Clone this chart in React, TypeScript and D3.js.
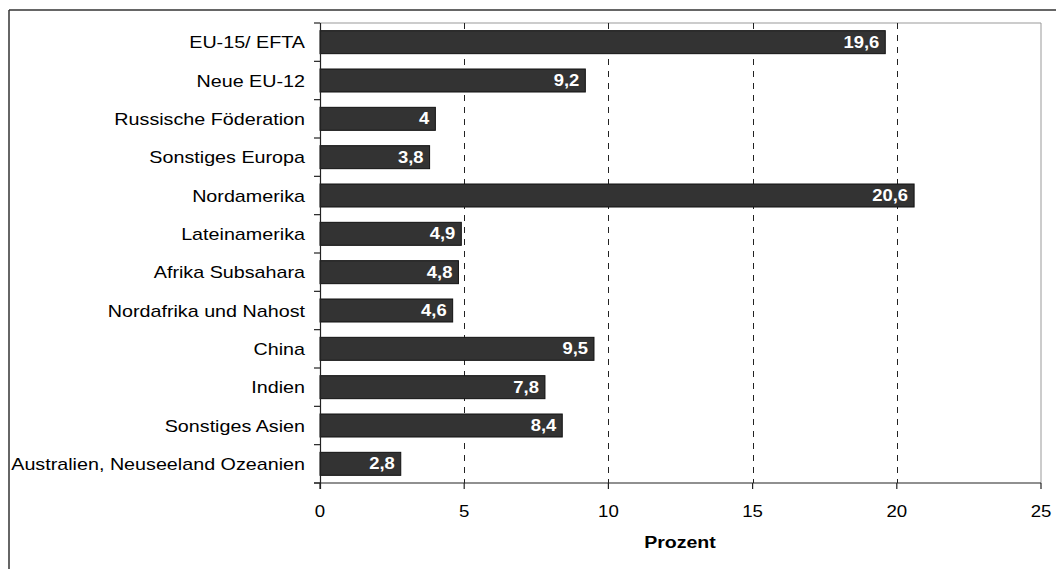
import React from "react";
import * as d3 from "d3";

const categories = [
  "EU-15/ EFTA",
  "Neue EU-12",
  "Russische Föderation",
  "Sonstiges Europa",
  "Nordamerika",
  "Lateinamerika",
  "Afrika Subsahara",
  "Nordafrika und Nahost",
  "China",
  "Indien",
  "Sonstiges Asien",
  "Australien, Neuseeland Ozeanien",
];
const values = [19.6, 9.2, 4, 3.8, 20.6, 4.9, 4.8, 4.6, 9.5, 7.8, 8.4, 2.8];
const xTicks = [0, 5, 10, 15, 20, 25];
const gridTicks = [5, 10, 15, 20];
const xLabel = "Prozent";

const W = 1056;
const H = 569;
const left = 320;
const right = 1041;
const top = 23;
const bottom = 483;
const FONT = "'Liberation Sans', Arial, sans-serif";

export default function App() {
  const x = d3.scaleLinear().domain([0, 25]).range([left, right]);
  const y = d3.scaleBand<string>().domain(categories).range([top, bottom]).paddingInner(0.4).paddingOuter(0.2);
  const bounds = d3.range(categories.length + 1).map((i) => top + i * ((bottom - top) / categories.length));
  const fmt = (v: number) => String(v).replace(".", ",");

  return (
    <svg width={W} height={H} style={{ position: "absolute", left: 0, top: 0 }} fontFamily={FONT}>
      <rect x={0} y={0} width={W} height={H} fill="#fff" />
      <line x1={9} x2={W} y1={10} y2={10} stroke="#333" strokeWidth={1.5} />
      <line x1={9} x2={9} y1={10} y2={H} stroke="#333" strokeWidth={1.5} />
      <line x1={left} x2={right} y1={top} y2={top} stroke="#999" strokeWidth={1} />
      <line x1={right} x2={right} y1={top} y2={bottom} stroke="#999" strokeWidth={1} />
      {gridTicks.map((t) => (
        <line key={t} x1={Math.round(x(t)) + 0.5} x2={Math.round(x(t)) + 0.5} y1={top} y2={bottom}
          stroke="#222" strokeWidth={1} strokeDasharray="6,6" />
      ))}
      {categories.map((c, i) => {
        const yy = y(c)!;
        const bw = y.bandwidth();
        return (
          <g key={c}>
            <rect x={x(0)} y={yy} width={x(values[i]) - x(0)} height={bw} fill="#333" stroke="#111" strokeWidth={1} />
            <text transform={`translate(${x(values[i]) - 6},${yy + bw / 2 + 5.5}) scale(1.15,1)`}
              textAnchor="end" fill="#fff" fontWeight="bold" fontSize={16}>{fmt(values[i])}</text>
            <text transform={`translate(305,${yy + bw / 2 + 6}) scale(1.16,1)`}
              textAnchor="end" fill="#000" fontSize={17}>{c}</text>
          </g>
        );
      })}
      <line x1={left + 0.5} x2={left + 0.5} y1={top} y2={bottom + 6} stroke="#222" strokeWidth={1.2} />
      {bounds.map((b, i) => (
        <line key={i} x1={left - 6} x2={left} y1={b} y2={b} stroke="#222" strokeWidth={1.2} />
      ))}
      <line x1={left - 6} x2={right} y1={bottom} y2={bottom} stroke="#222" strokeWidth={1.2} />
      {xTicks.map((t) => (
        <g key={t}>
          <line x1={x(t)} x2={x(t)} y1={bottom} y2={bottom + 6} stroke="#222" strokeWidth={1.2} />
          <text transform={`translate(${x(t)},517) scale(1.13,1)`} textAnchor="middle" fontSize={16.5} fill="#000">{t}</text>
        </g>
      ))}
      <text transform={`translate(680,548) scale(1.15,1)`} textAnchor="middle" fontSize={17} fontWeight="bold" fill="#000">{xLabel}</text>
    </svg>
  );
}
